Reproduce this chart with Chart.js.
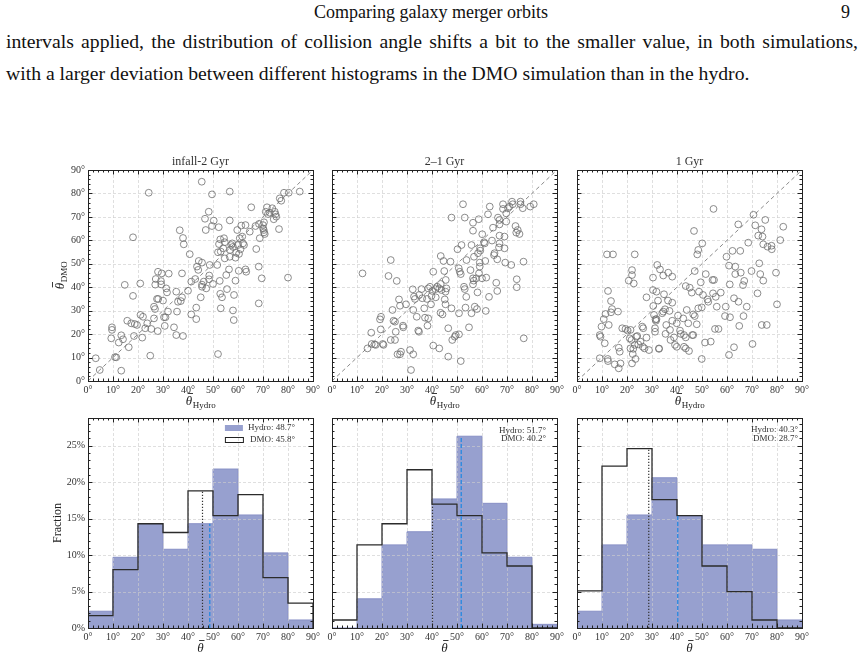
<!DOCTYPE html>
<html>
<head>
<meta charset="utf-8">
<script src="https://cdn.jsdelivr.net/npm/chart.js@4.4.1/dist/chart.umd.min.js"></script>
<style>
  body { margin: 0; background: #fff; }
  #page { position: relative; width: 862px; height: 659px; overflow: hidden; font-family: "Liberation Serif", serif; color: #111; }
  .head { position: absolute; top: 1px; left: 0; width: 862px; text-align: center; font-size: 18px; line-height: 22px; }
  .pnum { position: absolute; top: 1px; left: 841px; font-size: 18px; line-height: 22px; }
  .line { position: absolute; left: 6px; font-size: 19.7px; line-height: 22px; white-space: nowrap; }
  canvas { position: absolute; }
</style>
</head>
<body>
<div id="page">
  <div class="head">Comparing galaxy merger orbits</div>
  <div class="pnum">9</div>
  <div class="line" id="line1" style="top:30px">intervals applied, the distribution of collision angle shifts a bit to the smaller value, in both simulations,</div>
  <div class="line" style="top:62px">with a larger deviation between different histograms in the DMO simulation than in the hydro.</div>
</div>
<script>
// ---- data ----
const panelTitles = ["infall-2 Gyr", "2\u20131 Gyr", "1 Gyr"];
const degTicks = [0, 10, 20, 30, 40, 50, 60, 70, 80, 90];
const fracTicks = [0, 5, 10, 15, 20, 25];
const binEdges = [0, 10, 20, 30, 40, 50, 60, 70, 80, 90];
const diagonal = [0, 90];

// [theta hydro, theta DMO] per merger
const pointsInfall = [
  [3.1,9.7],[4.7,4.7],[9.6,22.9],[9.6,21.8],[9.3,18.2],[10.8,10.2],[11.3,10.1],[13.3,4.4],[13.3,19.5],[14,17.8],
  [12.3,16.4],[14.7,41],[16.3,14.4],[15.7,25.7],[18,61.3],[18,36.3],[17.3,24.6],[18.7,24.3],[19.6,23.9],[18.4,19.2],
  [20.9,41.6],[21,28.2],[22,27.4],[21.7,18.5],[22.9,22.5],[23.7,24.6],[24.3,80.3],[24.9,10.8],[25.3,22.2],[26.4,31.7],
  [26.8,30.7],[26.4,26.7],[26.9,41.1],[27.1,43.5],[27.6,35],[28.1,35],[28,46.6],[29.5,45.9],[29.2,42.6],[29.3,41.2],
  [27.9,21.3],[30.4,27.2],[31,27.2],[30.7,23.5],[30,34.3],[31.3,39.5],[31.6,37.8],[32.3,45.8],[32,29.6],[34.4,22.9],
  [35.3,19.6],[35.3,38.1],[35.6,29.6],[36,33.8],[36.7,64.3],[37.6,45.9],[38,61],[38.3,58.3],[38,19.2],[37.6,35.7],
  [37.1,34.1],[40,38.5],[40.7,54.1],[41.3,42.4],[41.3,28.4],[42.9,43.5],[43.3,26.4],[43.3,31.3],[43.6,48.8],[44.1,47.4],
  [44.3,51.2],[45.6,50.5],[45.1,35.7],[45.5,85],[45.6,41.1],[46.3,42.4],[45.6,40.2],[46.8,69.2],[47.1,64.4],[47.3,39.5],
  [48.3,72.2],[48.5,45],[48.4,43.4],[48.7,49.5],[49.6,79.6],[49.6,66.1],[50.3,68.4],[50,41.4],[51.7,49.5],[52,54.9],
  [52.3,65.6],[52,11.5],[52.4,58.4],[52.9,60.4],[53.1,55.2],[52.7,42.7],[52.9,37.2],[53.1,31],[53.6,35.7],[54.1,56.6],
  [54.4,60.9],[54.7,52.3],[54.7,59.2],[55.3,45.2],[55.6,39.2],[56.4,47.6],[56.7,80.8],[56.7,68.5],[56.7,53],[56.8,55.9],
  [57.3,58],[58,57.2],[57.7,58.7],[58,30.1],[58.4,36.7],[58.3,26],[59,42.8],[59,52.6],[59.3,54.7],[59.7,64.4],
  [60,58],[60.7,60.9],[60.3,47],[60.4,54.2],[61,56.2],[61.3,66.3],[61.7,61.6],[62,58.7],[62.4,58],[63,47.6],
  [63.3,46.6],[63,66.5],[64.7,63.7],[65.3,74.1],[67,66.1],[67.3,56.3],[68.3,48.8],[68.3,33.1],[68.4,67],[68.7,60.9],
  [69.5,43.8],[70,66.5],[70.4,67.7],[70.3,64.4],[70.4,63.4],[70,65.1],[70.7,62.7],[71.1,72.2],[71.6,74.1],[72,71.2],
  [72.7,71.8],[73.7,73.7],[74.3,69],[74.7,72.2],[75,71.1],[75.3,70.1],[76.4,64.8],[76.7,77.9],[77.3,76.9],[78.4,80.3],
  [80.3,80.3],[80,44.1],[84.7,80.8]
];
const points2to1 = [
  [12.2,45.9],[14.2,13.9],[15.9,15.8],[15.7,20.6],[17,15.6],[17.5,15.4],[19.2,26.3],[19.6,27.4],[19.5,22],[20.3,15.8],
  [20.6,15.4],[22.6,44.8],[23.5,51.6],[23.5,17.5],[25.2,17.5],[24.2,30.3],[24.6,25.7],[25.2,25.3],[25.5,21],[25.9,42.7],
  [26.2,11.4],[27.2,11.4],[27.6,12.5],[26.8,34.8],[27.2,32.1],[28.4,23.6],[28.5,22.9],[29.6,32.7],[31.2,13.2],[32.5,11.4],
  [31.6,4.7],[32.3,39.1],[32.8,36],[33.2,35],[32.5,30.3],[33.9,27.4],[34.5,21.5],[34.8,21],[34.9,36.7],[35.8,39.2],
  [36.1,35.3],[36.9,31],[37.2,27],[38,35],[38.2,23.6],[38.5,26.7],[38.5,39.5],[39.2,40.2],[39.6,32.7],[39.8,36.3],
  [40.1,38.4],[40.5,46.6],[40.5,15.1],[42.9,13.9],[41.4,39.2],[41.5,35.7],[42.1,40.2],[42.9,39.5],[43.5,53.3],[43.4,29.1],
  [44.2,28.4],[43.5,41.4],[43.8,38.8],[44.6,51.2],[44.9,46.9],[45.1,34.8],[45.4,32.7],[45.5,43.1],[45.8,39.5],[45.4,38.1],
  [46.5,22.5],[46.5,10.4],[47.4,50.9],[47.8,31],[47.8,69.7],[48.1,17.5],[49.1,18.9],[49.5,19.6],[50.2,56.2],[50.7,48.1],
  [51.1,46.6],[51.5,45.6],[50.8,28.9],[50.8,19.9],[51.5,8.5],[51.8,58],[52.4,75.4],[52.8,40.2],[53.1,39.2],[53.1,69.7],
  [53.4,31.3],[53.7,35.9],[53.8,51.6],[54.8,22.9],[55.4,47.3],[55.8,28.9],[55.8,58],[56.4,67.5],[56.4,64.1],[56.4,43.8],
  [56.7,42.8],[56.4,41.2],[56.8,53],[57.1,31.7],[57.7,43.8],[58,30.7],[58.2,37.8],[58.4,54.5],[58.7,69],[59.1,50.5],
  [59.1,48.8],[58.8,45.9],[59.2,56.6],[59.3,55.6],[60,43.8],[60.1,62.6],[60.8,59.2],[61.1,58.7],[61.3,51.2],[61.5,29.9],
  [61.7,44.1],[62.4,71.1],[63.1,74.4],[62.8,35.9],[64,59.9],[64.4,65.4],[64.8,53.7],[65,54.5],[65.7,41.9],[66.1,38.4],
  [66.1,51.9],[66.4,69.7],[67,66.8],[67,68.7],[66.8,57],[67,58.7],[67,62],[68.4,75.4],[68.4,73.4],[69,56.6],
  [69,61.6],[69.3,50.5],[69.7,68],[69.7,71.5],[70.4,73.7],[71,74.4],[71.7,49.5],[72,76.5],[72.3,75.4],[73.4,66.1],
  [73.7,63.3],[74.3,64.4],[75,62.7],[73.9,43.4],[73.9,40],[75.4,76.5],[75.4,75.4],[76.3,73.7],[76.7,18.2],[76.6,50.9],
  [79.3,74.4],[80.7,75.4]
];
const points1Gyr = [
  [9.1,9.7],[9.1,19.6],[9.4,18.9],[9.8,23.2],[10.7,26.4],[11.1,16.1],[11.4,28.6],[12,54],[14.4,54],[12.4,38.4],
  [12.3,9.4],[12.4,8.5],[12.7,23.9],[13.6,34.1],[14,30.7],[13.6,29.3],[15.1,7.1],[16.4,29.6],[16.7,14.2],[17.1,12.5],
  [16.7,5.4],[17.4,7.5],[18.1,22.5],[19.4,22.2],[20.3,21.5],[20.7,42.8],[21.4,21.8],[21.1,18.2],[21.8,17.5],[21.4,13.9],
  [22,47.3],[22,45.2],[22.7,41.6],[22.3,11.5],[22,7.5],[22.5,13.7],[23.1,15.4],[23.4,9.4],[23.1,54],[23.7,18.9],
  [24.1,19.2],[24.5,15.6],[25.4,16.8],[26.1,23.2],[26.5,22.5],[26.3,14.6],[27,13.9],[27.8,18.5],[27.8,35.7],[28.8,13.2],
  [30.4,44.1],[30.4,38.8],[30.5,32],[30.8,28.2],[31.2,22.5],[31.2,21],[31.4,26.3],[31.8,26.4],[31.6,25.7],[31.8,38.1],
  [32.1,49.5],[33.2,47.6],[32.4,34.3],[32.8,13.9],[32.8,13.7],[34.1,28.9],[34.5,29.6],[34.5,45],[34.8,37],[35.2,30.6],
  [35.7,23.9],[35.4,20.1],[36.4,34.3],[36.5,46.2],[37,29.9],[37.2,21.8],[38.1,33.4],[38.1,44.5],[38.1,25.7],[37.4,17.5],
  [38.8,18.6],[39.2,15.4],[39.9,14.6],[39.9,24.6],[40.4,27.9],[41.2,21.5],[41.5,20.1],[42.5,26.7],[42.8,19.6],[43.5,18.6],
  [42.8,14.6],[43.5,13.9],[44.8,12.8],[43.5,40.5],[43.9,30.3],[44.5,24.6],[45.1,39.8],[45.9,37.7],[46.1,19.6],[46.5,19.6],
  [46.5,28.4],[47.1,27.7],[46.8,64],[47.1,46.9],[47.9,24.2],[48.1,54],[48.5,55.9],[48.8,38.1],[48.5,31],[49.5,42.1],
  [49.9,31.4],[49.9,9.4],[50.1,58.7],[50.4,36.7],[51.2,16.4],[51.5,45.6],[52.2,34.8],[52.5,33.8],[53.5,16.8],[54.2,43.1],
  [54.8,43.1],[54.6,73.4],[54.4,37.4],[55.5,35.9],[55.2,22.2],[56.6,22.2],[55.9,31.7],[57.5,37.7],[59.2,27.7],[59.8,53],
  [59.5,31.7],[60.8,49.2],[60.8,11.1],[61.1,41.2],[61.2,27.2],[62.2,55.5],[65.3,55.5],[62.8,35.3],[62.8,14.4],[63.3,48.8],
  [63.3,45.6],[64.5,66.8],[64.6,33.8],[64.9,23.5],[65.5,46.2],[66.4,40.9],[66.9,42.7],[66.6,27.7],[67.9,31.7],[68.5,59],
  [69.8,46.9],[70.2,15.8],[70.6,70.9],[71.3,66.4],[72.2,37.4],[72.5,62],[72.9,50.2],[73.3,45.6],[73.8,64.7],[73.9,23.9],
  [75.9,23.9],[74.2,61.6],[74.5,42.8],[74.5,58.3],[75.3,68.7],[76.2,57.3],[77.8,57.7],[77.9,56.2],[79.6,46.2],[80,32.7],
  [81.3,60.1],[82.5,65.8]
];
const scatterSets = [pointsInfall, points2to1, points1Gyr];

// histogram fractions (%) per 10 degree bin
const hydroHist = [
  [2.3, 9.7, 14.3, 10.8, 14.3, 21.8, 15.5, 10.3, 1.1],
  [0, 4.0, 11.4, 13.2, 17.7, 26.3, 17.1, 9.7, 0.5],
  [2.3, 11.4, 15.5, 20.6, 15.4, 11.4, 11.4, 10.8, 1.1]
];
const dmoHist = [
  [1.7, 8.0, 14.3, 13.1, 18.8, 15.4, 18.3, 6.9, 3.4],
  [1.1, 11.4, 14.3, 21.7, 17.0, 15.4, 10.3, 8.5, 0],
  [5.1, 22.2, 24.6, 17.6, 15.4, 8.5, 5.0, 1.1, 0]
];
const hydroMean = [48.7, 51.7, 40.3];
const dmoMean = [45.8, 40.2, 28.7];

// ---- layout ----
const plotLefts = [88, 332, 577];
const plotW = 225;
const topRow = { top: 170, h: 211 };
const botRow = { top: 418, h: 210 };
const padL = 44, padR = 16, padT = 22, padB = 36;

const FONT = '"Liberation Serif", serif';
const HYDRO_FILL = "#97a0cf";
const HYDRO_EDGE = "#8890c6";
const MEAN_BLUE = "#2f8ae0";

// squeeze the first (justified) text line into the page width
(function fitLine() {
  const el = document.getElementById("line1");
  const spaces = el.textContent.split(" ").length - 1;
  const natural = el.getBoundingClientRect().width;
  el.style.wordSpacing = ((852 - natural) / spaces) + "px";
})();

function strokeLine(ctx, x1, y1, x2, y2) {
  ctx.beginPath();
  ctx.moveTo(x1, y1);
  ctx.lineTo(x2, y2);
  ctx.stroke();
}

function drawGrid(chart, o) {
  const { ctx, chartArea: a, scales: { x, y } } = chart;
  ctx.save();
  ctx.strokeStyle = "rgba(205,205,205,0.8)";
  ctx.lineWidth = 0.8;
  ctx.setLineDash([3, 2]);
  o.xGrid.forEach(v => {
    const p = Math.round(x.getPixelForValue(v)) + 0.5;
    strokeLine(ctx, p, a.top, p, a.bottom);
  });
  o.yGrid.forEach(v => {
    const p = Math.round(y.getPixelForValue(v)) + 0.5;
    strokeLine(ctx, a.left, p, a.right, p);
  });
  ctx.restore();
}

// theta with a bar on top, plus an optional subscript
function drawLabel(ctx, cx, cy, sub, rotate) {
  ctx.save();
  ctx.translate(cx, cy);
  if (rotate) ctx.rotate(-Math.PI / 2);
  ctx.fillStyle = "#222";
  ctx.strokeStyle = "#222";
  ctx.textBaseline = "alphabetic";
  ctx.textAlign = "left";
  const mainFont = "italic 13px " + FONT;
  const subFont = "9px " + FONT;
  ctx.font = mainFont;
  const w1 = ctx.measureText("\u03b8").width;
  ctx.font = subFont;
  const w2 = sub ? ctx.measureText(sub).width : 0;
  const x0 = -(w1 + w2) / 2;
  ctx.font = mainFont;
  ctx.fillText("\u03b8", x0, 4);
  ctx.lineWidth = 0.9;
  strokeLine(ctx, x0 + 1.8, -7.5, x0 + w1 + 0.8, -7.5);
  if (sub) {
    ctx.font = subFont;
    ctx.fillText(sub, x0 + w1 + 0.5, 7);
  }
  ctx.restore();
}

const paperPlugin = {
  id: "paper",
  beforeDatasetsDraw(chart, args, o) {
    if (o.xGrid && !o.gridOnTop) drawGrid(chart, o);
  },
  // histograms: grid goes over the filled Hydro area but under the lines
  afterDatasetDraw(chart, args, o) {
    if (o.xGrid && o.gridOnTop && args.index === 0) drawGrid(chart, o);
  },
  afterDraw(chart, args, o) {
    if (!o.xGrid) return;
    const { ctx, chartArea: a, scales: { x, y } } = chart;
    ctx.save();
    ctx.strokeStyle = "#222";
    ctx.lineWidth = 1;
    ctx.strokeRect(Math.round(a.left) + 0.5, Math.round(a.top) + 0.5,
                   Math.round(a.width), Math.round(a.height));
    // inward ticks on all four sides
    for (let v = x.min; v <= x.max + 1e-6; v += o.xMinor) {
      const major = Math.abs(v / o.xMajor - Math.round(v / o.xMajor)) < 1e-6;
      const len = major ? 4.5 : 2.5;
      const p = Math.round(x.getPixelForValue(v)) + 0.5;
      strokeLine(ctx, p, a.bottom, p, a.bottom - len);
      strokeLine(ctx, p, a.top, p, a.top + len);
    }
    for (let v = y.min; v <= y.max + 1e-6; v += o.yMinor) {
      const major = Math.abs(v / o.yMajor - Math.round(v / o.yMajor)) < 1e-6;
      const len = major ? 4.5 : 2.5;
      const p = Math.round(y.getPixelForValue(v)) + 0.5;
      strokeLine(ctx, a.left, p, a.left + len, p);
      strokeLine(ctx, a.right, p, a.right - len, p);
    }
    const cx = (a.left + a.right) / 2;
    if (o.title) {
      ctx.fillStyle = "#333";
      ctx.font = "12px " + FONT;
      ctx.textAlign = "center";
      ctx.textBaseline = "middle";
      ctx.fillText(o.title, cx, a.top - 8);
    }
    drawLabel(ctx, cx, a.bottom + 20, o.xSub, false);
    if (o.yText === "Fraction") {
      ctx.save();
      ctx.translate(a.left - 30, (a.top + a.bottom) / 2);
      ctx.rotate(-Math.PI / 2);
      ctx.fillStyle = "#222";
      ctx.font = "12px " + FONT;
      ctx.textAlign = "center";
      ctx.textBaseline = "middle";
      ctx.fillText(o.yText, 0, 0);
      ctx.restore();
    } else if (o.yText) {
      drawLabel(ctx, a.left - 28, (a.top + a.bottom) / 2, o.yText, true);
    }
    if (o.legend) {
      const L = o.legend;
      ctx.font = "9px " + FONT;
      ctx.fillStyle = "#333";
      ctx.textAlign = "right";
      ctx.textBaseline = "middle";
      const tx = a.right - L.right;
      ctx.fillText(L.hydro, tx, a.top + L.y1);
      ctx.fillText(L.dmo, tx, a.top + L.y2);
      if (L.patches) {
        const pw = ctx.measureText(L.hydro).width;
        const px = tx - pw - 23;
        ctx.fillStyle = HYDRO_FILL;
        ctx.fillRect(px, a.top + L.y1 - 3, 18, 6);
        ctx.strokeStyle = "#222";
        ctx.lineWidth = 1;
        ctx.strokeRect(px + 0.5, a.top + L.y2 - 2.5, 18, 5);
      }
    }
    ctx.restore();
  }
};
Chart.register(paperPlugin);

function makeCanvas(left, top, h) {
  const c = document.createElement("canvas");
  c.width = padL + plotW + padR;
  c.height = padT + h + padB;
  c.style.left = (left - padL) + "px";
  c.style.top = (top - padT) + "px";
  document.getElementById("page").appendChild(c);
  return c;
}

function baseScales(yMax, yTicks, yFmt, showY, xFmt) {
  return {
    x: {
      type: "linear", min: 0, max: 90,
      afterBuildTicks: s => { s.ticks = degTicks.map(v => ({ value: v })); },
      afterFit: s => { s.height = padB; },
      grid: { display: false, drawTicks: false },
      border: { display: false },
      ticks: { autoSkip: false, maxRotation: 0, padding: 3, color: "#333",
               font: { family: FONT, size: 10 }, callback: xFmt }
    },
    y: {
      type: "linear", min: 0, max: yMax,
      afterBuildTicks: s => { s.ticks = yTicks.map(v => ({ value: v })); },
      afterFit: s => { s.width = padL; },
      grid: { display: false, drawTicks: false },
      border: { display: false },
      ticks: { display: showY, autoSkip: false, padding: 3, color: "#333",
               font: { family: FONT, size: 10 }, callback: yFmt }
    }
  };
}

const degFmt = v => v + "\u00b0";
const pctFmt = v => v + "%";

// ---- scatter row ----
scatterSets.forEach((pts, i) => {
  const canvas = makeCanvas(plotLefts[i], topRow.top, topRow.h);
  new Chart(canvas.getContext("2d"), {
    type: "scatter",
    data: {
      datasets: [
        {
          data: diagonal.map(v => ({ x: v, y: v })),
          showLine: true, borderColor: "#8a8a8a", borderWidth: 1,
          borderDash: [4, 3], pointRadius: 0, order: 2
        },
        {
          data: pts.map(p => ({ x: p[0], y: p[1] })),
          pointRadius: 3.4, borderWidth: 0.8, borderColor: "#6e6e6e",
          backgroundColor: "rgba(0,0,0,0)", order: 1
        }
      ]
    },
    options: {
      responsive: false, animation: false,
      layout: { padding: { left: 0, right: padR, top: padT, bottom: 0 } },
      scales: baseScales(90, degTicks, degFmt, i === 0, degFmt),
      plugins: {
        legend: { display: false }, tooltip: { enabled: false },
        paper: {
          xGrid: degTicks, yGrid: degTicks, xMajor: 10, xMinor: 2, yMajor: 10, yMinor: 2,
          gridOnTop: false, title: panelTitles[i], xSub: "Hydro",
          yText: i === 0 ? "DMO" : null
        }
      }
    }
  });
});

// ---- histogram row ----
function stepData(vals) {
  const pts = [{ x: binEdges[0], y: 0 }];
  vals.forEach((v, k) => pts.push({ x: binEdges[k], y: v }));
  pts.push({ x: binEdges[binEdges.length - 1], y: vals[vals.length - 1] });
  pts.push({ x: binEdges[binEdges.length - 1], y: 0 });
  return pts;
}
function binHeight(vals, m) {
  return vals[Math.min(vals.length - 1, Math.floor(m / 10))];
}

const legendSpots = [
  { right: 18, y1: 10, y2: 22, patches: true },
  { right: 11, y1: 13, y2: 21, patches: false },
  { right: 4, y1: 12, y2: 21, patches: false }
];

hydroHist.forEach((hv, i) => {
  const dv = dmoHist[i];
  const canvas = makeCanvas(plotLefts[i], botRow.top, botRow.h);
  const hm = hydroMean[i], dm = dmoMean[i];
  new Chart(canvas.getContext("2d"), {
    type: "scatter",
    data: {
      datasets: [
        {
          data: stepData(hv), showLine: true, stepped: "before",
          fill: "origin", backgroundColor: HYDRO_FILL, borderColor: HYDRO_EDGE,
          borderWidth: 1, pointRadius: 0, order: 4
        },
        {
          data: stepData(dv), showLine: true, stepped: "before",
          fill: false, borderColor: "#2b2b2b", borderWidth: 1.3, pointRadius: 0, order: 3
        },
        {
          data: [{ x: dm, y: 0 }, { x: dm, y: binHeight(dv, dm) }],
          showLine: true, borderColor: "#333", borderWidth: 1.2,
          borderDash: [1.2, 1.8], pointRadius: 0, order: 2
        },
        {
          data: [{ x: hm, y: 0 }, { x: hm, y: binHeight(hv, hm) }],
          showLine: true, borderColor: MEAN_BLUE, borderWidth: 1.4,
          borderDash: [4, 2], pointRadius: 0, order: 1
        }
      ]
    },
    options: {
      responsive: false, animation: false,
      layout: { padding: { left: 0, right: padR, top: padT, bottom: 0 } },
      scales: baseScales(28.8, fracTicks, pctFmt, i === 0, degFmt),
      plugins: {
        legend: { display: false }, tooltip: { enabled: false },
        paper: {
          xGrid: degTicks, yGrid: fracTicks, xMajor: 10, xMinor: 2, yMajor: 5, yMinor: 1,
          gridOnTop: true, title: null, xSub: null,
          yText: i === 0 ? "Fraction" : null,
          legend: Object.assign({
            hydro: "Hydro: " + hm.toFixed(1) + "\u00b0",
            dmo: "DMO: " + dm.toFixed(1) + "\u00b0"
          }, legendSpots[i])
        }
      }
    }
  });
});
</script>
</body>
</html>
